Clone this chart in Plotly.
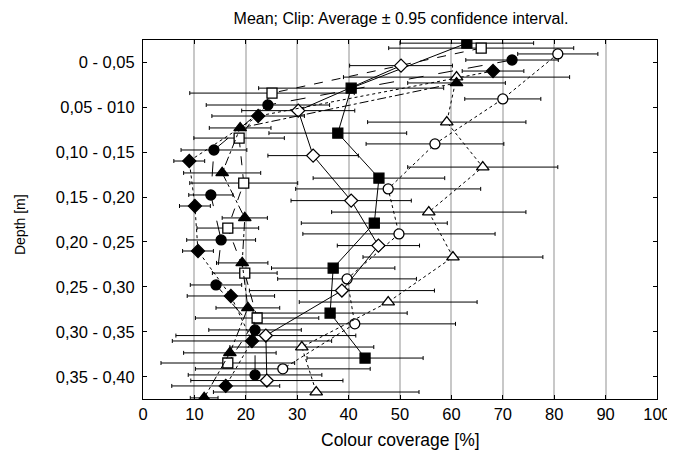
import plotly.graph_objects as go

depth_labels = ["0 - 0,05", "0,05 - 010", "0,10 - 0,15", "0,15 - 0,20",
                "0,20 - 0,25", "0,25 - 0,30", "0,30 - 0,35", "0,35 - 0,40"]

sq_filled = [63.0, 40.5, 37.9, 45.9, 45.0, 37.0, 36.4, 43.2]
sq_filled_ci = [13, 18, 13.4, 12.8, 14.2, 12, 15, 11.3]
sq_open = [65.8, 25.1, 18.7, 19.6, 16.5, 19.8, 22.2, 16.5]
sq_open_ci = [18, 16, 8.8, 10.5, 6, 6.3, 12, 13]
circ_open = [80.7, 70.0, 56.8, 47.7, 49.8, 39.7, 41.2, 27.2]
circ_open_ci = [7.8, 7.4, 13.4, 18, 18.7, 13.5, 19.6, 17]
circ_filled = [71.8, 24.3, 13.8, 13.2, 15.2, 14.2, 21.8, 21.8]
circ_filled_ci = [9, 12, 6.4, 4.3, 6.7, 5, 9, 13]
dia_open = [50.2, 30.2, 33.1, 40.5, 45.8, 38.7, 23.9, 24.1]
dia_open_ci = [10, 11, 8.8, 11.7, 8, 18, 17.5, 14.8]
dia_filled = [68.1, 22.4, 9.0, 10.1, 10.7, 17.1, 21.2, 16.1]
dia_filled_ci = [6, 9, 3, 3, 3, 8.5, 15.5, 10.5]
tri_open = [61.0, 59.1, 66.1, 55.6, 60.3, 47.7, 30.9, 33.7]
tri_open_ci = [22, 15.4, 14.6, 18.9, 17.5, 17.3, 14, 20]
tri_filled = [61.0, 18.9, 15.4, 19.8, 19.3, 20.4, 16.9, 11.9]
tri_filled_ci = [9.5, 6, 7.5, 4.4, 5, 6.2, 9, 2.7]

# (values, ci, symbol, filled, dash, vertical offset within a depth class)
series = [
    (sq_filled, sq_filled_ci, "square", True, "solid", -0.42),
    (sq_open, sq_open_ci, "square", False, "dash", -0.31),
    (circ_open, circ_open_ci, "circle", False, "dot", -0.18),
    (circ_filled, circ_filled_ci, "circle", True, "longdash", -0.045),
    (dia_open, dia_open_ci, "diamond", False, "solid", 0.08),
    (dia_filled, dia_filled_ci, "diamond", True, "dot", 0.20),
    (tri_open, tri_open_ci, "triangle-up", False, "dot", 0.335),
    (tri_filled, tri_filled_ci, "triangle-up", True, "dashdot", 0.465),
]

fig = go.Figure()
for vals, ci, sym, filled, dash, off in series:
    ys = [i + off for i in range(len(depth_labels))]
    fig.add_trace(go.Scatter(
        x=vals, y=ys, mode="lines+markers",
        line=dict(color="black", width=1, dash=dash),
        marker=dict(symbol=sym, size=10 if sym != "triangle-up" else 11,
                    color="black" if filled else "white",
                    line=dict(color="black", width=1.3)),
        error_x=dict(type="data", array=ci, visible=True,
                     color="black", thickness=1, width=2),
        showlegend=False,
    ))

fig.update_layout(
    width=667, height=447,
    margin=dict(l=135, r=18, t=32, b=56),
    paper_bgcolor="white", plot_bgcolor="white",
    font=dict(family="Liberation Sans, Arial, sans-serif", size=16, color="black"),
    title=dict(text="Mean; Clip: Average ± 0.95 confidence interval.",
               xref="paper", x=0.502, xanchor="center",
               yref="container", y=0.977, yanchor="middle",
               font=dict(size=16)),
    annotations=[
        dict(text="Colour coverage [%]", xref="paper", yref="paper",
             x=0.5, y=-0.114, xanchor="center", yanchor="middle",
             showarrow=False, font=dict(size=17.5)),
        dict(text="Depth [m]", xref="paper", yref="paper",
             x=-0.239, y=0.485, xanchor="center", yanchor="middle",
             textangle=-90, showarrow=False, font=dict(size=14)),
    ],
)
fig.update_xaxes(
    range=[0, 100], tickvals=list(range(0, 101, 10)),
    showgrid=True, gridcolor="#c8c8c8", gridwidth=1.6,
    showline=True, linecolor="black", linewidth=1.2, mirror="ticks",
    ticks="inside", ticklen=4, tickcolor="black", zeroline=False,
    automargin=False, tickfont=dict(size=16.5),
)
fig.update_yaxes(
    range=[7.49, -0.49], tickvals=list(range(len(depth_labels))),
    ticktext=depth_labels, showgrid=False,
    showline=True, linecolor="black", linewidth=1.2, mirror="ticks",
    ticks="inside", ticklen=4, tickcolor="black", zeroline=False,
    automargin=False, tickfont=dict(size=16.5), ticklabelstandoff=4,
)

fig.write_html("out.html")
